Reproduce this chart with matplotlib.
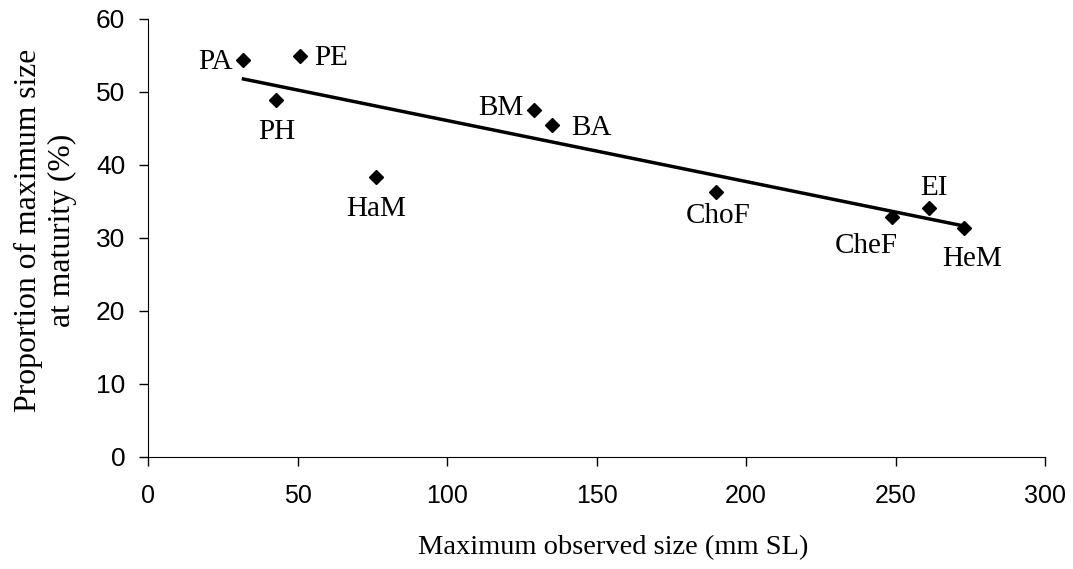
import numpy as np
import matplotlib.pyplot as plt

# Species / population codes with max observed size and size at maturity ratio
codes = ['PA', 'PE', 'PH', 'HaM', 'BM', 'BA', 'ChoF', 'CheF', 'EI', 'HeM']
max_size = [31.9, 50.8, 42.7, 76.2, 129.1, 135.1, 189.9, 248.7, 261.3, 272.9]
prop_mat = [54.4, 54.9, 48.9, 38.3, 47.5, 45.4, 36.3, 32.9, 34.1, 31.3]

# label placement: baseline offset in points, horizontal alignment
label_pos = {
    'PA': ((-7.5, -6.5), 'right'),
    'PE': ((10, -6.5), 'left'),
    'PH': ((0.7, -28), 'center'),
    'HaM': ((0, -28), 'center'),
    'BM': ((-8, -3.5), 'right'),
    'BA': ((13.5, -7), 'left'),
    'ChoF': ((1.5, -22.5), 'center'),
    'CheF': ((-18, -26), 'center'),
    'EI': ((3.5, 9.5), 'center'),
    'HeM': ((5.8, -27), 'center'),
}

x = np.array(max_size)
y = np.array(prop_mat)

fig = plt.figure(figsize=(10.73, 5.69), dpi=100)
ax = fig.add_axes([0.138, 0.197, 0.836, 0.770])

ax.plot(x, y, 'D', color='black', markersize=7, zorder=3)

# linear trend line across the observed range
slope, intercept = np.polyfit(x, y, 1)
xf = np.array([x.min(), x.max()])
ax.plot(xf, slope * xf + intercept, color='black', linewidth=2.5, zorder=2)

for c, xi, yi in zip(codes, x, y):
    off, ha = label_pos[c]
    ax.annotate(c, (xi, yi), xytext=off, textcoords='offset points',
                ha=ha, va='baseline', fontsize=21, family='Liberation Serif')

ax.set_xlim(0, 300)
ax.set_ylim(0, 60)
ax.set_xticks(np.arange(0, 301, 50))
ax.set_yticks(np.arange(0, 61, 10))
ax.spines['top'].set_visible(False)
ax.spines['right'].set_visible(False)
ax.tick_params(direction='out', length=6.5, width=1)
ax.tick_params(axis='x', pad=13, labelsize=18)
ax.tick_params(axis='y', pad=10, labelsize=19)
for lab in ax.get_xticklabels() + ax.get_yticklabels():
    lab.set_family('Liberation Sans')

ax.set_xlabel('Maximum observed size (mm SL)', fontsize=20.5,
              family='Liberation Serif')
ax.xaxis.set_label_coords(0.518, -0.178)
ax.set_ylabel('Proportion of maximum size\nat maturity (%)', fontsize=22.8,
              family='Liberation Serif', linespacing=1.25)
ax.yaxis.set_label_coords(-0.079, 0.517)

plt.savefig('out.png', dpi=100)
